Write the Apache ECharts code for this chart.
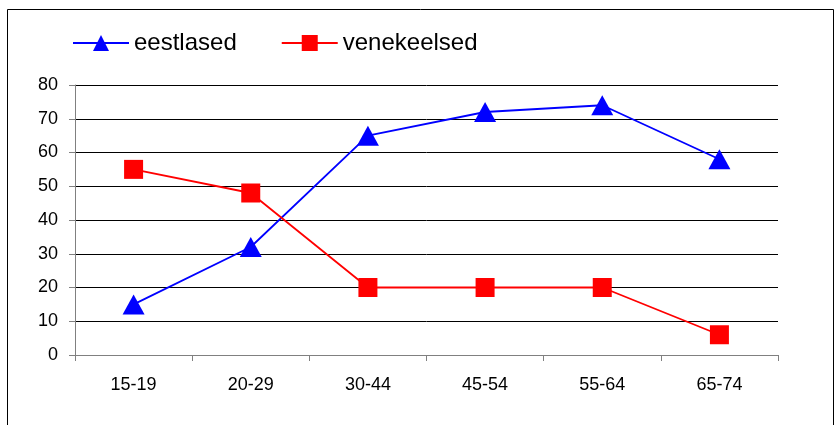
<!DOCTYPE html>
<html>
<head>
<meta charset="utf-8">
<script src="https://cdn.jsdelivr.net/npm/echarts@6/dist/echarts.min.js"></script>
<style>
html, body {margin: 0; padding: 0; background: #fff;}
#chart {width: 840px; height: 425px;}
</style>
</head>
<body>
<div id="chart"></div>
<script>
var ageGroups = ["15-19", "20-29", "30-44", "45-54", "55-64", "65-74"];
var eestlased = [15, 32, 65, 72, 74, 58];
var venekeelsed = [55, 48, 20, 20, 20, 6];

var chart = echarts.init(document.getElementById("chart"));
var font = "Liberation Sans, Arial, sans-serif";

chart.setOption({
    animation: false,
    backgroundColor: "#fff",
    graphic: [{type: "rect", shape: {x: 7.5, y: 9.5, width: 826, height: 430},
        style: {fill: null, stroke: "#000", lineWidth: 1}, silent: true}],
    legend: {
        left: 67, top: 26, itemWidth: 56, itemHeight: 20, itemGap: 44,
        textStyle: {fontFamily: font, fontSize: 24, color: "#000"},
        data: ["eestlased", "venekeelsed"],
    },
    grid: {left: 75, right: 62, top: 85, bottom: 70},
    xAxis: {
        type: "category", data: ageGroups, boundaryGap: true,
        axisLine: {lineStyle: {color: "#808080", width: 1}},
        axisTick: {show: true, length: 6, lineStyle: {color: "#808080"}},
        axisLabel: {fontFamily: font, fontSize: 18, color: "#000", margin: 21},
    },
    yAxis: {
        type: "value", min: 0, max: 80, interval: 10,
        axisLine: {show: true, lineStyle: {color: "#808080", width: 1}},
        axisTick: {show: true, length: 6, lineStyle: {color: "#808080"}},
        axisLabel: {fontFamily: font, fontSize: 18, color: "#000", margin: 17},
        splitLine: {lineStyle: {color: "#000", width: 1}},
    },
    series: [
        {name: "eestlased", type: "line", data: eestlased,
            symbol: "triangle", symbolSize: [22, 20],
            lineStyle: {color: "#0000ff", width: 1.8},
            itemStyle: {color: "#0000ff"}},
        {name: "venekeelsed", type: "line", data: venekeelsed,
            symbol: "rect", symbolSize: 19,
            lineStyle: {color: "#ff0000", width: 1.8},
            itemStyle: {color: "#ff0000"}},
    ],
});
</script>
</body>
</html>
